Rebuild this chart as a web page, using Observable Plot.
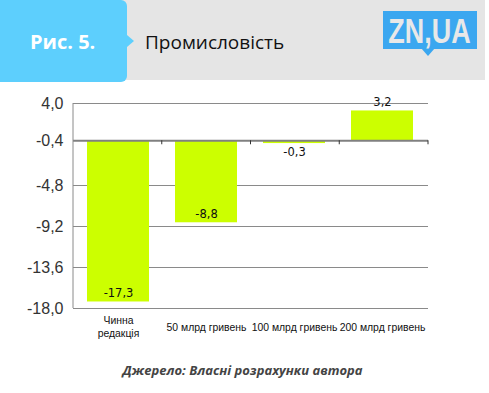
<!DOCTYPE html>
<html><head><meta charset="utf-8">
<script src="https://cdn.jsdelivr.net/npm/d3@7"></script>
<script src="https://cdn.jsdelivr.net/npm/@observablehq/plot@0.6"></script>
<style>
body{margin:0;background:#fff;width:489px;height:393px;overflow:hidden;font-family:"Open Sans",sans-serif}
#header{position:relative;height:82px}
#header .gray{position:absolute;left:100px;top:0;width:385px;height:80px;background:#e5e5e5}
#header .blue{position:absolute;left:0;top:0;width:127px;height:82px;background:#5dcffd;border-radius:0 6px 6px 0}
#header .arrow{position:absolute;left:127px;top:35px;width:0;height:0;border-left:7px solid #5dcffd;border-top:6px solid transparent;border-bottom:6px solid transparent}
#header .fig{position:absolute;left:30px;top:28px;line-height:28px;font-size:20px;font-weight:700;color:#fff}
#header .title{position:absolute;left:145px;top:28px;line-height:28px;font-size:19px;color:#111}
#header svg{position:absolute;left:0;top:0}
#chart{height:270px}
#caption{width:485px;text-align:center;margin-top:8px;line-height:20px;font-size:13px;font-weight:700;font-style:italic;color:#444}
</style></head><body>
<div id="header">
  <div class="gray"></div><div class="blue"></div><div class="arrow"></div>
  <div class="fig">Рис. 5.</div>
  <div class="title">Промисловість</div>
  <svg width="489" height="82">
    <rect x="383" y="11" width="94" height="38" fill="#3ba7f0"/>
    <polygon points="421,48 435,48 428,56" fill="#3ba7f0"/>
    <text transform="translate(429.5,43) scale(0.77,1)" text-anchor="middle" font-family="Liberation Sans, Arial, sans-serif" font-weight="700" font-size="35" fill="#e8e8e8">ZN,UA</text>
  </svg>
</div>
<div id="chart"></div>
<div id="caption">Джерело: Власні розрахунки автора</div>
<script>
const categories = ["Чинна\nредакція", "50 млрд гривень", "100 млрд гривень", "200 млрд гривень"];
const values = [-17.3, -8.8, -0.3, 3.2];
const yTickValues = [4, 0, -4.8, -9.2, -13.6, -18];
const yTickLabels = ["4,0", "-0,4", "-4,8", "-9,2", "-13,6", "-18,0"];

const data = categories.map((c, i) => ({category: c, value: values[i], label: values[i].toFixed(1).replace(".", ",")}));
const inside = d => Math.abs(d.value) > 5;
const labelUp = d => (d.value < 0) === inside(d);

function categoryTicks(index, scales, vals, dims) {
  const {width, height, marginLeft, marginRight, marginTop, marginBottom} = dims;
  const g = d3.create("svg:g");
  g.append("line")
    .attr("x1", marginLeft).attr("x2", marginLeft)
    .attr("y1", marginTop).attr("y2", height - marginBottom)
    .attr("stroke", "#8a8a8a");
  const y0 = scales.y(0);
  const step = (width - marginLeft - marginRight) / categories.length;
  for (let k = 1; k <= categories.length; k++) {
    const x = marginLeft + k * step;
    g.append("line").attr("x1", x).attr("x2", x).attr("y1", y0).attr("y2", y0 + 4)
      .attr("stroke", "#333");
  }
  return g.node();
}

const chart = Plot.plot({
  width: 489,
  height: 270,
  marginTop: 21,
  marginBottom: 44,
  marginLeft: 73,
  marginRight: 61,
  style: {fontFamily: "Liberation Sans, Arial, sans-serif", background: "transparent"},
  x: {domain: categories, paddingInner: 0.29, paddingOuter: 0.145, axis: null},
  y: {domain: [-18, 4], axis: null},
  marks: [
    Plot.ruleY(yTickValues.filter(v => v !== 0), {stroke: "#8a8a8a", strokeWidth: 1, strokeOpacity: 1}),
    Plot.barY(data, {x: "category", y: "value", fill: "#ccff00"}),
    Plot.ruleY([0], {stroke: "#808080", strokeWidth: 2, strokeOpacity: 1}),
    categoryTicks,
    Plot.axisY({ticks: yTickValues, tickFormat: d => yTickLabels[yTickValues.indexOf(d)], tickSize: 0, tickPadding: 10, fontSize: 16, fill: "#333", label: null}),
    Plot.text(categories, {x: d => d, frameAnchor: "bottom", dy: 18, lineAnchor: "middle", lineHeight: 1.2, fontSize: 10.4, fill: "#111"}),
    Plot.text(data.filter(labelUp), {x: "category", y: "value", text: "label", dy: -8.7, lineAnchor: "middle", fontFamily: "DejaVu Sans", fontSize: 11.5, fill: "#111"}),
    Plot.text(data.filter(d => !labelUp(d)), {x: "category", y: "value", text: "label", dy: 8.7, lineAnchor: "middle", fontFamily: "DejaVu Sans", fontSize: 11.5, fill: "#111"})
  ]
});
document.getElementById("chart").appendChild(chart);
</script>
</body></html>
